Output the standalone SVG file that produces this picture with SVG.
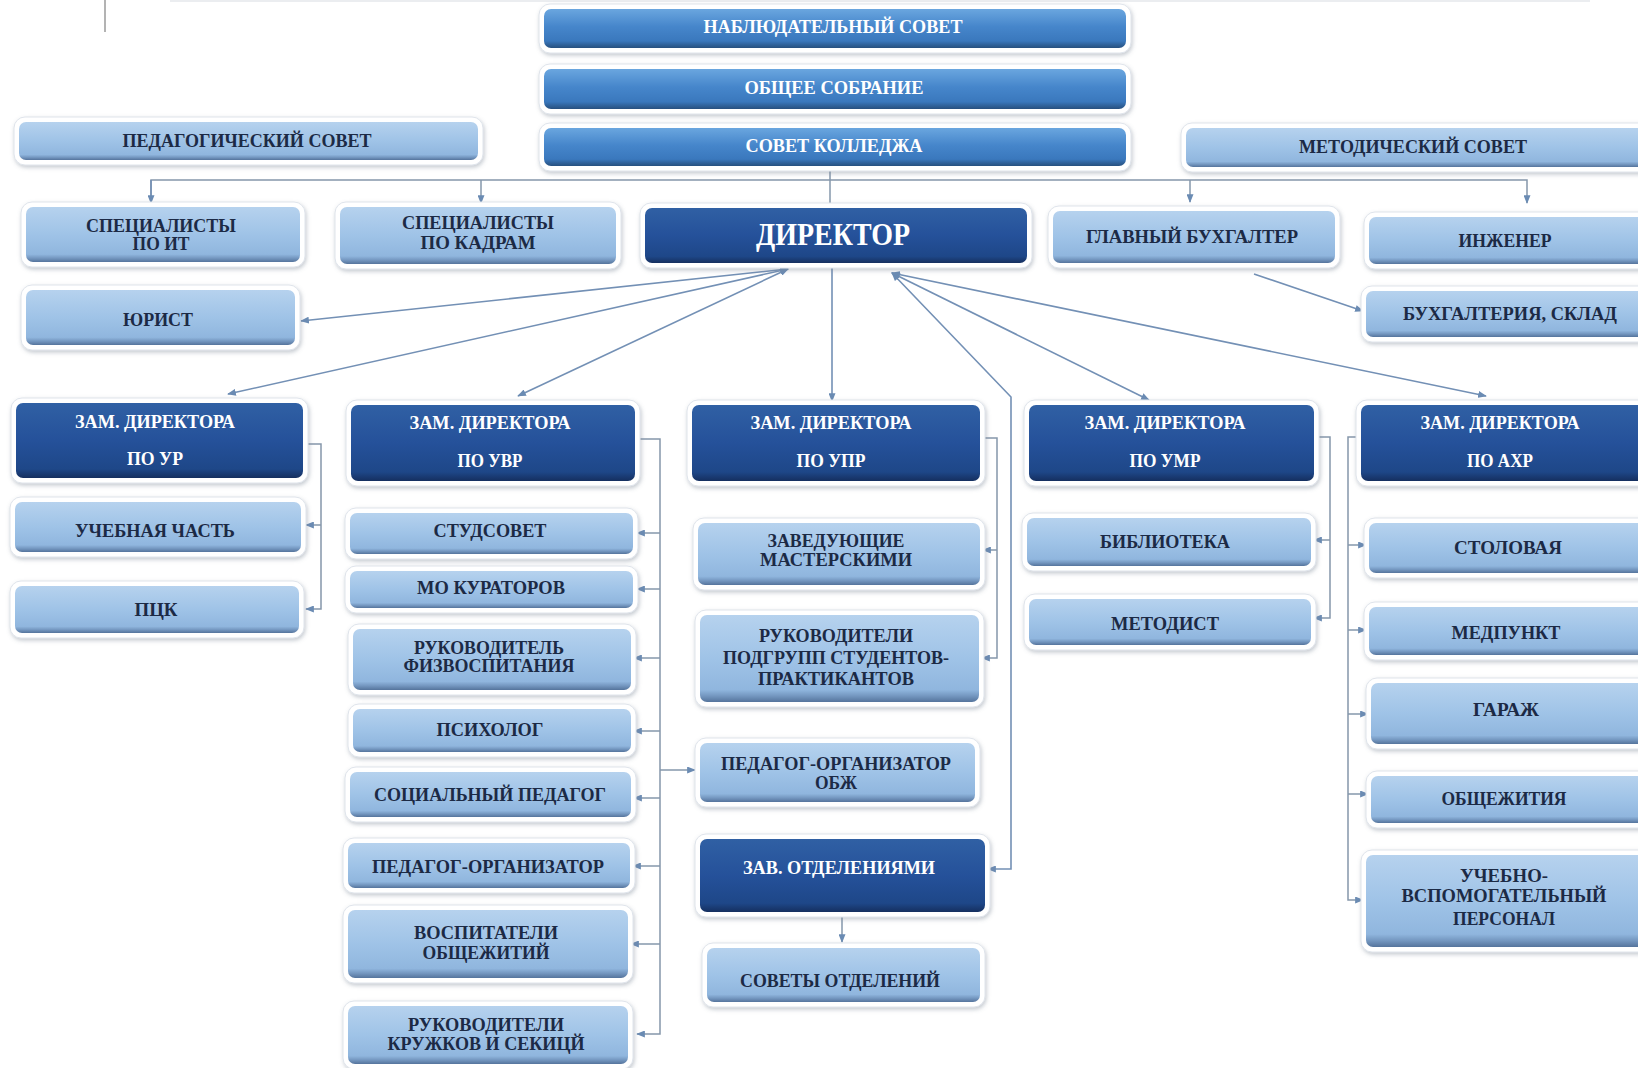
<svg xmlns="http://www.w3.org/2000/svg" width="1638" height="1068" viewBox="0 0 1638 1068">
<defs>
<linearGradient id="gL" x1="0" y1="0" x2="0" y2="1">
<stop offset="0" stop-color="#b6d2ee"/><stop offset="0.5" stop-color="#9fc3e7"/><stop offset="0.86" stop-color="#90b6de"/><stop offset="0.93" stop-color="#7497c0"/><stop offset="1" stop-color="#55749c"/>
</linearGradient>
<linearGradient id="gD" x1="0" y1="0" x2="0" y2="1">
<stop offset="0" stop-color="#3060a4"/><stop offset="0.5" stop-color="#25519a"/><stop offset="0.88" stop-color="#1e4788"/><stop offset="1" stop-color="#152f5f"/>
</linearGradient>
<linearGradient id="gM" x1="0" y1="0" x2="0" y2="1">
<stop offset="0" stop-color="#6aa6df"/><stop offset="0.45" stop-color="#4686cb"/><stop offset="0.82" stop-color="#3a78bd"/><stop offset="0.92" stop-color="#2f6199"/><stop offset="1" stop-color="#27507f"/>
</linearGradient>
<filter id="sh" x="-5%" y="-20%" width="110%" height="150%">
<feDropShadow dx="1" dy="2" stdDeviation="2.2" flood-color="#7a8696" flood-opacity="0.45"/>
</filter>
<marker id="ah" viewBox="0 0 10 8" refX="9" refY="4" markerWidth="9" markerHeight="7" markerUnits="userSpaceOnUse" orient="auto-start-reverse">
<path d="M0,0 L10,4 L0,8 z" fill="#6a8bb3"/>
</marker>
</defs>
<style>
.o{fill:#fff;stroke:#dfe4eb;stroke-width:1;filter:url(#sh)}
.lt{fill:url(#gL)}
.dk{fill:url(#gD)}
.md{fill:url(#gM)}
text{font-family:"Liberation Serif","Times New Roman",serif;font-weight:bold;font-size:19px;fill:#1c2a45;text-anchor:middle}
text.w{fill:#ffffff}
.c{fill:none;stroke:#7390b5;stroke-width:1.6}
.g{fill:none;stroke:#8597ab;stroke-width:1.5}
</style>
<rect width="1638" height="1068" fill="#ffffff"/>
<line x1="170" y1="1" x2="1590" y2="1" stroke="#ebedf0" stroke-width="2"/>
<line x1="105" y1="0" x2="105" y2="32" stroke="#9a9a9a" stroke-width="1.5"/>

<g id="connectors">
<path class="g" d="M830,166 V207"/>
<path class="g" d="M151,202 V180 H1527 V203" marker-end="url(#ah)"/>
<path class="g" d="M481,180 V203" marker-end="url(#ah)"/>
<path class="g" d="M1190,180 V202" marker-end="url(#ah)"/>
<path class="c" d="M151,180 V203" marker-end="url(#ah)"/>
<path class="c" d="M788,269 L301,321" marker-start="url(#ah)" marker-end="url(#ah)"/>
<path class="c" d="M788,269 L228,394" marker-start="url(#ah)" marker-end="url(#ah)"/>
<path class="c" d="M788,269 L518,396" marker-start="url(#ah)" marker-end="url(#ah)"/>
<path class="c" d="M832,264 V401" marker-end="url(#ah)"/>
<path class="c" d="M892,273 L1011,397 V869 H988" marker-start="url(#ah)" marker-end="url(#ah)"/>
<path class="c" d="M892,273 L1149,400" marker-start="url(#ah)" marker-end="url(#ah)"/>
<path class="c" d="M892,273 L1486,396" marker-start="url(#ah)" marker-end="url(#ah)"/>
<path class="c" d="M1254,274 L1363,311" marker-end="url(#ah)"/>
<path class="g" d="M305,444 H321 V609 H306" marker-end="url(#ah)"/>
<path class="g" d="M321,525 H306" marker-end="url(#ah)"/>
<path class="g" d="M637,439 H660 V1034 H637" marker-end="url(#ah)"/>
<path class="g" d="M660,533 H637" marker-end="url(#ah)"/>
<path class="g" d="M660,589 H637" marker-end="url(#ah)"/>
<path class="g" d="M660,658 H634" marker-end="url(#ah)"/>
<path class="g" d="M660,731 H634" marker-end="url(#ah)"/>
<path class="g" d="M660,798 H634" marker-end="url(#ah)"/>
<path class="g" d="M660,866 H633" marker-end="url(#ah)"/>
<path class="g" d="M660,944 H631" marker-end="url(#ah)"/>
<path class="g" d="M660,770 H695" marker-end="url(#ah)"/>
<path class="g" d="M982,438 H997 V658 H982" marker-end="url(#ah)"/>
<path class="g" d="M997,550 H983" marker-end="url(#ah)"/>
<path class="g" d="M1316,437 H1330 V618 H1314" marker-end="url(#ah)"/>
<path class="g" d="M1330,540 H1314" marker-end="url(#ah)"/>
<path class="g" d="M1359,437 H1348 V900 H1363" marker-end="url(#ah)"/>
<path class="g" d="M1348,545 H1366" marker-end="url(#ah)"/>
<path class="g" d="M1348,630 H1366" marker-end="url(#ah)"/>
<path class="g" d="M1348,714 H1368" marker-end="url(#ah)"/>
<path class="g" d="M1348,794 H1368" marker-end="url(#ah)"/>
<path class="g" d="M842,917 V942" marker-end="url(#ah)"/>
</g>

<g id="n_nabl"><rect class="o" x="539" y="4" width="592" height="49" rx="11"/><rect class="md" x="544" y="9" width="582" height="39" rx="7"/><text class="w" x="833" y="33" textLength="259" lengthAdjust="spacingAndGlyphs">НАБЛЮДАТЕЛЬНЫЙ СОВЕТ</text></g>
<g id="n_obsh"><rect class="o" x="539" y="64" width="592" height="50" rx="11"/><rect class="md" x="544" y="69" width="582" height="40" rx="7"/><text class="w" x="834" y="94" textLength="179" lengthAdjust="spacingAndGlyphs">ОБЩЕЕ СОБРАНИЕ</text></g>
<g id="n_sovk"><rect class="o" x="539" y="123" width="592" height="48" rx="11"/><rect class="md" x="544" y="128" width="582" height="38" rx="7"/><text class="w" x="834" y="152" textLength="177" lengthAdjust="spacingAndGlyphs">СОВЕТ КОЛЛЕДЖА</text></g>
<g id="n_ped"><rect class="o" x="14" y="117" width="469" height="48" rx="11"/><rect class="lt" x="19" y="122" width="459" height="38" rx="7"/><text x="247" y="147" textLength="249" lengthAdjust="spacingAndGlyphs">ПЕДАГОГИЧЕСКИЙ СОВЕТ</text></g>
<g id="n_met"><rect class="o" x="1181" y="123" width="490" height="49" rx="11"/><rect class="lt" x="1186" y="128" width="480" height="39" rx="7"/><text x="1413" y="153" textLength="228" lengthAdjust="spacingAndGlyphs">МЕТОДИЧЕСКИЙ СОВЕТ</text></g>

<g id="n_it"><rect class="o" x="21" y="202" width="284" height="65" rx="11"/><rect class="lt" x="26" y="207" width="274" height="55" rx="7"/><text x="161" y="232" textLength="150" lengthAdjust="spacingAndGlyphs">СПЕЦИАЛИСТЫ</text><text x="161" y="250" textLength="57" lengthAdjust="spacingAndGlyphs">ПО ИТ</text></g>
<g id="n_kadr"><rect class="o" x="335" y="202" width="286" height="67" rx="11"/><rect class="lt" x="340" y="207" width="276" height="57" rx="7"/><text x="478" y="229" textLength="152" lengthAdjust="spacingAndGlyphs">СПЕЦИАЛИСТЫ</text><text x="478" y="249" textLength="115" lengthAdjust="spacingAndGlyphs">ПО КАДРАМ</text></g>
<g id="n_dir"><rect class="o" x="640" y="203" width="392" height="65" rx="11"/><rect class="dk" x="645" y="208" width="382" height="55" rx="7"/><text class="w" x="833" y="245" style="font-size:32px" textLength="154" lengthAdjust="spacingAndGlyphs">ДИРЕКТОР</text></g>
<g id="n_gb"><rect class="o" x="1048" y="206" width="292" height="62" rx="11"/><rect class="lt" x="1053" y="211" width="282" height="52" rx="7"/><text x="1192" y="243" textLength="212" lengthAdjust="spacingAndGlyphs">ГЛАВНЫЙ БУХГАЛТЕР</text></g>
<g id="n_ing"><rect class="o" x="1364" y="212" width="300" height="57" rx="11"/><rect class="lt" x="1369" y="217" width="290" height="47" rx="7"/><text x="1505" y="247" textLength="93" lengthAdjust="spacingAndGlyphs">ИНЖЕНЕР</text></g>
<g id="n_jur"><rect class="o" x="21" y="285" width="279" height="65" rx="11"/><rect class="lt" x="26" y="290" width="269" height="55" rx="7"/><text x="158" y="326" textLength="70" lengthAdjust="spacingAndGlyphs">ЮРИСТ</text></g>
<g id="n_buh"><rect class="o" x="1361" y="286" width="300" height="56" rx="11"/><rect class="lt" x="1366" y="291" width="290" height="46" rx="7"/><text x="1510" y="320" textLength="214" lengthAdjust="spacingAndGlyphs">БУХГАЛТЕРИЯ, СКЛАД</text></g>

<g id="n_ur"><rect class="o" x="11" y="398" width="297" height="85" rx="11"/><rect class="dk" x="16" y="403" width="287" height="75" rx="7"/><text class="w" x="155" y="428" textLength="160" lengthAdjust="spacingAndGlyphs">ЗАМ. ДИРЕКТОРА</text><text class="w" x="155" y="465" textLength="56" lengthAdjust="spacingAndGlyphs">ПО УР</text></g>
<g id="n_uvr"><rect class="o" x="346" y="400" width="294" height="86" rx="11"/><rect class="dk" x="351" y="405" width="284" height="76" rx="7"/><text class="w" x="490" y="429" textLength="161" lengthAdjust="spacingAndGlyphs">ЗАМ. ДИРЕКТОРА</text><text class="w" x="490" y="467" textLength="65" lengthAdjust="spacingAndGlyphs">ПО УВР</text></g>
<g id="n_upr"><rect class="o" x="687" y="400" width="298" height="86" rx="11"/><rect class="dk" x="692" y="405" width="288" height="76" rx="7"/><text class="w" x="831" y="429" textLength="161" lengthAdjust="spacingAndGlyphs">ЗАМ. ДИРЕКТОРА</text><text class="w" x="831" y="467" textLength="69" lengthAdjust="spacingAndGlyphs">ПО УПР</text></g>
<g id="n_umr"><rect class="o" x="1024" y="400" width="295" height="86" rx="11"/><rect class="dk" x="1029" y="405" width="285" height="76" rx="7"/><text class="w" x="1165" y="429" textLength="161" lengthAdjust="spacingAndGlyphs">ЗАМ. ДИРЕКТОРА</text><text class="w" x="1165" y="467" textLength="71" lengthAdjust="spacingAndGlyphs">ПО УМР</text></g>
<g id="n_ahr"><rect class="o" x="1356" y="400" width="310" height="86" rx="11"/><rect class="dk" x="1361" y="405" width="300" height="76" rx="7"/><text class="w" x="1500" y="429" textLength="159" lengthAdjust="spacingAndGlyphs">ЗАМ. ДИРЕКТОРА</text><text class="w" x="1500" y="467" textLength="66" lengthAdjust="spacingAndGlyphs">ПО АХР</text></g>

<g id="n_uch"><rect class="o" x="10" y="497" width="296" height="60" rx="11"/><rect class="lt" x="15" y="502" width="286" height="50" rx="7"/><text x="155" y="537" textLength="160" lengthAdjust="spacingAndGlyphs">УЧЕБНАЯ ЧАСТЬ</text></g>
<g id="n_pck"><rect class="o" x="10" y="581" width="294" height="57" rx="11"/><rect class="lt" x="15" y="586" width="284" height="47" rx="7"/><text x="156" y="616" textLength="43" lengthAdjust="spacingAndGlyphs">ПЦК</text></g>

<g id="n_stud"><rect class="o" x="345" y="508" width="293" height="51" rx="11"/><rect class="lt" x="350" y="513" width="283" height="41" rx="7"/><text x="490" y="537" textLength="113" lengthAdjust="spacingAndGlyphs">СТУДСОВЕТ</text></g>
<g id="n_mo"><rect class="o" x="345" y="566" width="293" height="47" rx="11"/><rect class="lt" x="350" y="571" width="283" height="37" rx="7"/><text x="491" y="594" textLength="148" lengthAdjust="spacingAndGlyphs">МО КУРАТОРОВ</text></g>
<g id="n_fiz"><rect class="o" x="348" y="624" width="288" height="71" rx="11"/><rect class="lt" x="353" y="629" width="278" height="61" rx="7"/><text x="489" y="654" textLength="150" lengthAdjust="spacingAndGlyphs">РУКОВОДИТЕЛЬ</text><text x="489" y="672" textLength="171" lengthAdjust="spacingAndGlyphs">ФИЗВОСПИТАНИЯ</text></g>
<g id="n_psy"><rect class="o" x="348" y="704" width="288" height="53" rx="11"/><rect class="lt" x="353" y="709" width="278" height="43" rx="7"/><text x="490" y="736" textLength="107" lengthAdjust="spacingAndGlyphs">ПСИХОЛОГ</text></g>
<g id="n_soc"><rect class="o" x="345" y="767" width="291" height="55" rx="11"/><rect class="lt" x="350" y="772" width="281" height="45" rx="7"/><text x="490" y="801" textLength="232" lengthAdjust="spacingAndGlyphs">СОЦИАЛЬНЫЙ ПЕДАГОГ</text></g>
<g id="n_porg"><rect class="o" x="343" y="838" width="292" height="55" rx="11"/><rect class="lt" x="348" y="843" width="282" height="45" rx="7"/><text x="488" y="873" textLength="232" lengthAdjust="spacingAndGlyphs">ПЕДАГОГ-ОРГАНИЗАТОР</text></g>
<g id="n_vosp"><rect class="o" x="343" y="905" width="290" height="78" rx="11"/><rect class="lt" x="348" y="910" width="280" height="68" rx="7"/><text x="486" y="939" textLength="144" lengthAdjust="spacingAndGlyphs">ВОСПИТАТЕЛИ</text><text x="486" y="959" textLength="127" lengthAdjust="spacingAndGlyphs">ОБЩЕЖИТИЙ</text></g>
<g id="n_kruzh"><rect class="o" x="343" y="1001" width="290" height="68" rx="11"/><rect class="lt" x="348" y="1006" width="280" height="58" rx="7"/><text x="486" y="1031" textLength="156" lengthAdjust="spacingAndGlyphs">РУКОВОДИТЕЛИ</text><text x="486" y="1050" textLength="197" lengthAdjust="spacingAndGlyphs">КРУЖКОВ И СЕКИЦЙ</text></g>

<g id="n_zav"><rect class="o" x="693" y="518" width="292" height="72" rx="11"/><rect class="lt" x="698" y="523" width="282" height="62" rx="7"/><text x="836" y="547" textLength="137" lengthAdjust="spacingAndGlyphs">ЗАВЕДУЮЩИЕ</text><text x="836" y="566" textLength="152" lengthAdjust="spacingAndGlyphs">МАСТЕРСКИМИ</text></g>
<g id="n_podgr"><rect class="o" x="695" y="610" width="289" height="97" rx="11"/><rect class="lt" x="700" y="615" width="279" height="87" rx="7"/><text x="836" y="642" textLength="154" lengthAdjust="spacingAndGlyphs">РУКОВОДИТЕЛИ</text><text x="836" y="664" textLength="226" lengthAdjust="spacingAndGlyphs">ПОДГРУПП СТУДЕНТОВ-</text><text x="836" y="685" textLength="156" lengthAdjust="spacingAndGlyphs">ПРАКТИКАНТОВ</text></g>
<g id="n_obzh"><rect class="o" x="695" y="738" width="285" height="69" rx="11"/><rect class="lt" x="700" y="743" width="275" height="59" rx="7"/><text x="836" y="770" textLength="230" lengthAdjust="spacingAndGlyphs">ПЕДАГОГ-ОРГАНИЗАТОР</text><text x="836" y="789" textLength="42" lengthAdjust="spacingAndGlyphs">ОБЖ</text></g>
<g id="n_zavot"><rect class="o" x="695" y="834" width="295" height="83" rx="11"/><rect class="dk" x="700" y="839" width="285" height="73" rx="7"/><text class="w" x="839" y="874" textLength="192" lengthAdjust="spacingAndGlyphs">ЗАВ. ОТДЕЛЕНИЯМИ</text></g>
<g id="n_sovot"><rect class="o" x="702" y="943" width="283" height="64" rx="11"/><rect class="lt" x="707" y="948" width="273" height="54" rx="7"/><text x="840" y="987" textLength="200" lengthAdjust="spacingAndGlyphs">СОВЕТЫ ОТДЕЛЕНИЙ</text></g>

<g id="n_bib"><rect class="o" x="1022" y="513" width="294" height="58" rx="11"/><rect class="lt" x="1027" y="518" width="284" height="48" rx="7"/><text x="1165" y="548" textLength="130" lengthAdjust="spacingAndGlyphs">БИБЛИОТЕКА</text></g>
<g id="n_metod"><rect class="o" x="1024" y="594" width="292" height="56" rx="11"/><rect class="lt" x="1029" y="599" width="282" height="46" rx="7"/><text x="1165" y="630" textLength="108" lengthAdjust="spacingAndGlyphs">МЕТОДИСТ</text></g>

<g id="n_stol"><rect class="o" x="1364" y="518" width="300" height="60" rx="11"/><rect class="lt" x="1369" y="523" width="290" height="50" rx="7"/><text x="1508" y="554" textLength="108" lengthAdjust="spacingAndGlyphs">СТОЛОВАЯ</text></g>
<g id="n_med"><rect class="o" x="1364" y="602" width="300" height="58" rx="11"/><rect class="lt" x="1369" y="607" width="290" height="48" rx="7"/><text x="1506" y="639" textLength="109" lengthAdjust="spacingAndGlyphs">МЕДПУНКТ</text></g>
<g id="n_gar"><rect class="o" x="1366" y="678" width="300" height="71" rx="11"/><rect class="lt" x="1371" y="683" width="290" height="61" rx="7"/><text x="1506" y="716" textLength="66" lengthAdjust="spacingAndGlyphs">ГАРАЖ</text></g>
<g id="n_obsch"><rect class="o" x="1366" y="771" width="300" height="57" rx="11"/><rect class="lt" x="1371" y="776" width="290" height="47" rx="7"/><text x="1504" y="805" textLength="125" lengthAdjust="spacingAndGlyphs">ОБЩЕЖИТИЯ</text></g>
<g id="n_uvp"><rect class="o" x="1361" y="850" width="300" height="102" rx="11"/><rect class="lt" x="1366" y="855" width="290" height="92" rx="7"/><text x="1504" y="882" textLength="88" lengthAdjust="spacingAndGlyphs">УЧЕБНО-</text><text x="1504" y="902" textLength="205" lengthAdjust="spacingAndGlyphs">ВСПОМОГАТЕЛЬНЫЙ</text><text x="1504" y="925" textLength="102" lengthAdjust="spacingAndGlyphs">ПЕРСОНАЛ</text></g>
</svg>
